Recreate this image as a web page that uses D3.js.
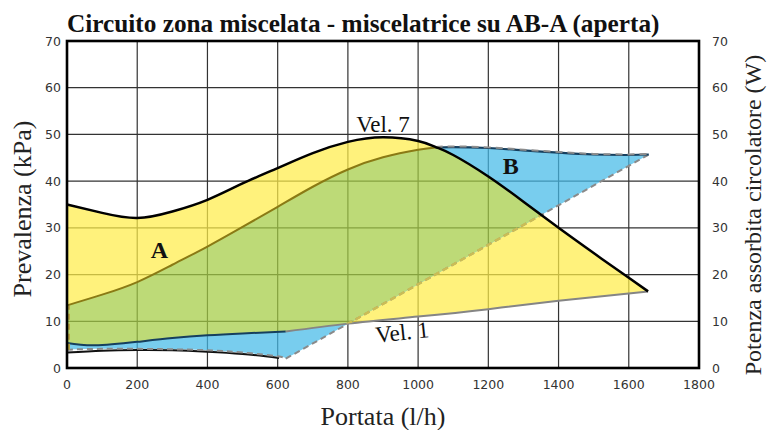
<!DOCTYPE html>
<html>
<head>
<meta charset="utf-8">
<script src="https://cdn.jsdelivr.net/npm/d3@7"></script>
<style>
  body { margin: 0; background: #fff; }
  svg { display: block; }
</style>
</head>
<body>
<div id="chart"></div>
<script>
const TITLE = 'Circuito zona miscelata - miscelatrice su AB-A (aperta)'
const X_LABEL = 'Portata (l/h)'
const Y_LABEL = 'Prevalenza (kPa)'
const Y2_LABEL = 'Potenza assorbita circolatore (W)'
const X_TICKS = [0, 200, 400, 600, 800, 1000, 1200, 1400, 1600, 1800]
const Y_TICKS = [0, 10, 20, 30, 40, 50, 60, 70]

// Vel. 7 – upper edge of area A
const vel7Flow = [0, 100, 200, 300, 400, 500, 600, 700, 800, 900, 1000, 1050, 1100, 1200, 1300, 1400, 1500, 1600, 1655]
const vel7Head = [35.0, 33.2, 32.1, 33.5, 36.0, 39.5, 42.8, 46.0, 48.4, 49.4, 48.6, 47.3, 45.6, 41.0, 35.6, 30.0, 24.6, 19.3, 16.4]

// Vel. 1 – lower edge of area A
const vel1Flow = [0, 80, 200, 300, 400, 500, 623, 800, 1000, 1200, 1400, 1655]
const vel1Head = [5.35, 4.85, 5.6, 6.4, 7.0, 7.4, 7.8, 9.5, 11.0, 12.6, 14.4, 16.4]

// upper edge of area B (olive part up to 1050, then dashed part)
const bTopFlow = [0, 100, 200, 300, 400, 500, 600, 700, 800, 900, 1000, 1050, 1100, 1200, 1300, 1400, 1500, 1600, 1657]
const bTopHead = [13.4, 15.7, 18.4, 22.1, 26.0, 30.2, 34.5, 38.8, 42.5, 45.1, 46.7, 47.2, 47.3, 47.1, 46.6, 46.1, 45.7, 45.6, 45.7]

// straight dashed edge on the right of B
const bEdgeFlow = [623, 1657]
const bEdgeHead = [2.0, 45.7]

// dashed lower edge of B
const bLowFlow = [0, 30, 100, 200, 300, 400, 500, 600, 623]
const bLowHead = [3.9, 4.0, 4.1, 4.1, 4.0, 3.8, 3.3, 2.5, 2.0]

// black curve under B
const lowFlow = [0, 100, 200, 300, 400, 500, 604]
const lowHead = [3.3, 3.7, 3.85, 3.8, 3.5, 3.0, 2.15]

const W = 768, H = 430
const M = { top: 41, right: 69, bottom: 62, left: 67 }

const x = d3.scaleLinear().domain([0, 1800]).range([M.left, W - M.right])
const y = d3.scaleLinear().domain([0, 70]).range([H - M.bottom, M.top])

const zip = (a, b) => a.map((v, i) => [v, b[i]])
const vel7 = zip(vel7Flow, vel7Head)
const vel1 = zip(vel1Flow, vel1Head)
const bTop = zip(bTopFlow, bTopHead)
const bEdge = zip(bEdgeFlow, bEdgeHead)
const bLow = zip(bLowFlow, bLowHead)
const low = zip(lowFlow, lowHead)

const line = d3.line().x(d => x(d[0])).y(d => y(d[1])).curve(d3.curveNatural)
const straight = d3.line().x(d => x(d[0])).y(d => y(d[1]))
const cont = p => 'L' + p.slice(1)

const svg = d3.select('#chart').append('svg')
  .attr('width', W).attr('height', H)
  .style('font-family', '"Liberation Serif", "DejaVu Serif", serif')

const pathA = line(vel7) + cont(line(vel1.slice().reverse())) + 'Z'
const pathB = line(bTop) + cont(straight(bEdge.slice().reverse())) + cont(line(bLow.slice().reverse())) + 'Z'

svg.append('clipPath').attr('id', 'clipA').append('path').attr('d', pathA)

// grid
const grid = svg.append('g').attr('stroke', '#333').attr('stroke-width', 1.2)
grid.selectAll('.gx').data(X_TICKS).join('line')
  .attr('x1', d => x(d)).attr('x2', d => x(d)).attr('y1', y(0)).attr('y2', y(70))
grid.selectAll('.gy').data(Y_TICKS).join('line')
  .attr('y1', d => y(d)).attr('y2', d => y(d)).attr('x1', x(0)).attr('x2', x(1800))

// fills (drawn over the grid, semi-transparent)
const fills = svg.append('g').attr('opacity', 0.72)
fills.append('path').attr('d', pathA).attr('fill', '#ffee4a')
fills.append('path').attr('d', pathB).attr('fill', '#45bae8')
fills.append('path').attr('d', pathB).attr('fill', '#a5cd44').attr('clip-path', 'url(#clipA)')

// lines
const lines = svg.append('g').attr('fill', 'none')
lines.append('path').attr('d', line(vel1.filter(d => d[0] <= 623)))
  .attr('stroke', '#163f5e').attr('stroke-width', 2)
lines.append('path').attr('d', line(vel1.filter(d => d[0] >= 623)))
  .attr('stroke', '#858585').attr('stroke-width', 2)
lines.append('path').attr('d', line(low)).attr('stroke', '#111').attr('stroke-width', 2)
lines.append('path').attr('d', line(bLow)).attr('stroke', '#8a8a8a').attr('stroke-width', 2)
  .attr('stroke-dasharray', '6 4')
lines.append('path').attr('d', straight(bEdge)).attr('stroke', '#8a8a8a').attr('stroke-width', 2)
  .attr('stroke-dasharray', '6 4')
lines.append('path').attr('d', straight(bEdge)).attr('stroke', '#cbbd55').attr('stroke-width', 2.4)
  .attr('stroke-dasharray', '6 4').attr('clip-path', 'url(#clipA)')
lines.append('line')
  .attr('x1', x(0) + 2).attr('x2', x(0) + 2).attr('y1', y(bLowHead[0])).attr('y2', y(bTopHead[0]))
  .attr('stroke', '#b8a540').attr('stroke-width', 2).attr('stroke-dasharray', '6 4')
lines.append('path').attr('d', line(bTop.filter(d => d[0] <= 1050)))
  .attr('stroke', '#8a7a14').attr('stroke-width', 2)
const bTopRight = bTop.filter(d => d[0] >= 1050)
lines.append('path').attr('d', line(bTopRight)).attr('stroke', '#163f5e').attr('stroke-width', 2.2)
lines.append('path').attr('d', line(bTopRight)).attr('stroke', '#8c8c8c').attr('stroke-width', 2)
  .attr('stroke-dasharray', '7 5').attr('transform', 'translate(0,-0.6)')
lines.append('path').attr('d', line(vel7)).attr('stroke', '#000').attr('stroke-width', 2.5)

// frame
svg.append('rect')
  .attr('x', x(0)).attr('y', y(70)).attr('width', x(1800) - x(0)).attr('height', y(0) - y(70))
  .attr('fill', 'none').attr('stroke', '#000').attr('stroke-width', 2.6)

// ticks
const tickFont = '"DejaVu Sans", sans-serif'
svg.append('g').selectAll('text').data(Y_TICKS).join('text')
  .attr('x', x(0) - 6).attr('y', d => y(d)).attr('dy', '0.36em')
  .attr('text-anchor', 'end').attr('font-family', tickFont).attr('font-size', 12.5)
  .attr('fill', '#333').text(d => d)
svg.append('g').selectAll('text').data(Y_TICKS).join('text')
  .attr('x', x(1800) + 13).attr('y', d => y(d)).attr('dy', '0.36em')
  .attr('text-anchor', 'start').attr('font-family', tickFont).attr('font-size', 12.5)
  .attr('fill', '#333').text(d => d)
svg.append('g').selectAll('text').data(X_TICKS).join('text')
  .attr('x', d => x(d)).attr('y', y(0) + 16).attr('dy', '0.36em')
  .attr('text-anchor', 'middle').attr('font-family', tickFont).attr('font-size', 12.5)
  .attr('fill', '#333').text(d => d)

// titles
function fit(sel, width) {
  const w = sel.node().getComputedTextLength()
  const fs = parseFloat(sel.attr('font-size'))
  sel.attr('font-size', fs * width / w)
}
const title = svg.append('text').attr('x', x(0)).attr('y', 32)
  .attr('font-weight', 'bold').attr('font-size', 24).attr('fill', '#111').text(TITLE)
fit(title, 593)

svg.append('text').attr('x', 383).attr('y', 425).attr('text-anchor', 'middle')
  .attr('font-size', 26).attr('fill', '#222').text(X_LABEL)
svg.append('text').attr('transform', 'translate(31,209) rotate(-90)').attr('text-anchor', 'middle')
  .attr('font-size', 26).attr('fill', '#222').text(Y_LABEL)
svg.append('text').attr('transform', 'translate(761,215) rotate(-90)').attr('text-anchor', 'middle')
  .attr('font-size', 24).attr('fill', '#222').text(Y2_LABEL)

// annotations
svg.append('text').attr('x', x(900)).attr('y', y(50.6)).attr('text-anchor', 'middle')
  .attr('font-size', 23).attr('fill', '#111').text('Vel. 7')
svg.append('text').attr('transform', `translate(${x(957)},${y(6.0)}) rotate(-6)`).attr('text-anchor', 'middle')
  .attr('font-size', 23).attr('fill', '#111').text('Vel. 1')
svg.append('text').attr('x', x(263)).attr('y', y(23.6)).attr('text-anchor', 'middle')
  .attr('font-size', 24).attr('font-weight', 'bold').attr('fill', '#111').text('A')
svg.append('text').attr('x', x(1264)).attr('y', y(41.6)).attr('text-anchor', 'middle')
  .attr('font-size', 24).attr('font-weight', 'bold').attr('fill', '#111').text('B')
</script>
</body>
</html>
